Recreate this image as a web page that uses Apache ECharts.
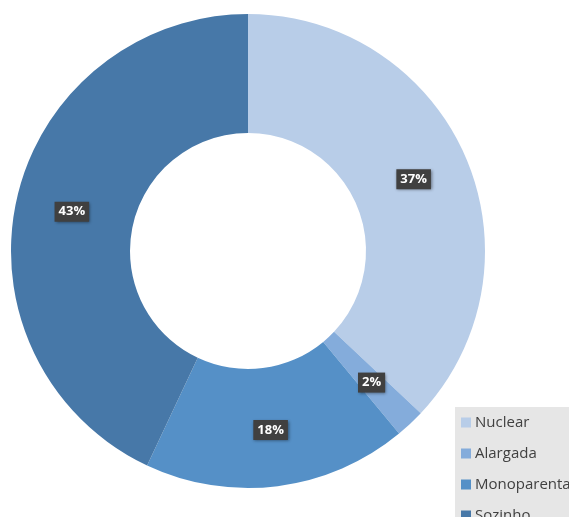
<!DOCTYPE html>
<html>
<head>
<meta charset="utf-8">
<script src="https://cdn.jsdelivr.net/npm/echarts@6/dist/echarts.min.js"></script>
<style>html,body{margin:0;padding:0;background:#fff;}#c{width:569px;height:517px;}</style>
</head>
<body>
<div id="c"></div>
<script>
var categories = ['Nuclear', 'Alargada', 'Monoparental', 'Sozinho'];
var values = [37, 2, 18, 43];
var colors = ['#b8cde8', '#84acdb', '#5590c7', '#4778a8'];

var chart = echarts.init(document.getElementById('c'), null, {renderer: 'canvas'});
chart.setOption({
  animation: false,
  backgroundColor: '#ffffff',
  color: colors,
  legend: {
    orient: 'vertical',
    left: 455,
    top: 407,
    width: 200,
    height: 200,
    padding: [8, 40, 10, 6],
    backgroundColor: '#e6e6e6',
    itemWidth: 10,
    itemHeight: 10,
    itemGap: 16,
    icon: 'rect',
    textStyle: {fontFamily: 'Open Sans', fontSize: 15, color: '#404040', lineHeight: 14, padding: [0, 0, 0, -1]},
    data: categories
  },
  series: [{
    type: 'pie',
    center: [248, 251],
    radius: [118, 237],
    startAngle: 90,
    clockwise: true,
    avoidLabelOverlap: false,
    label: {
      show: true,
      position: 'inside',
      formatter: '{d}%',
      color: '#ffffff',
      fontWeight: 'bold',
      fontFamily: 'Open Sans',
      fontSize: 13,
      backgroundColor: '#404040',
      padding: [4, 4, 3, 4],
      shadowColor: 'rgba(0,0,0,0.45)',
      shadowBlur: 3,
      shadowOffsetX: 1,
      shadowOffsetY: 1
    },
    labelLine: {show: false},
    emphasis: {disabled: true},
    data: categories.map(function (n, i) { return {name: n, value: values[i]}; })
  }]
});
</script>
</body>
</html>
